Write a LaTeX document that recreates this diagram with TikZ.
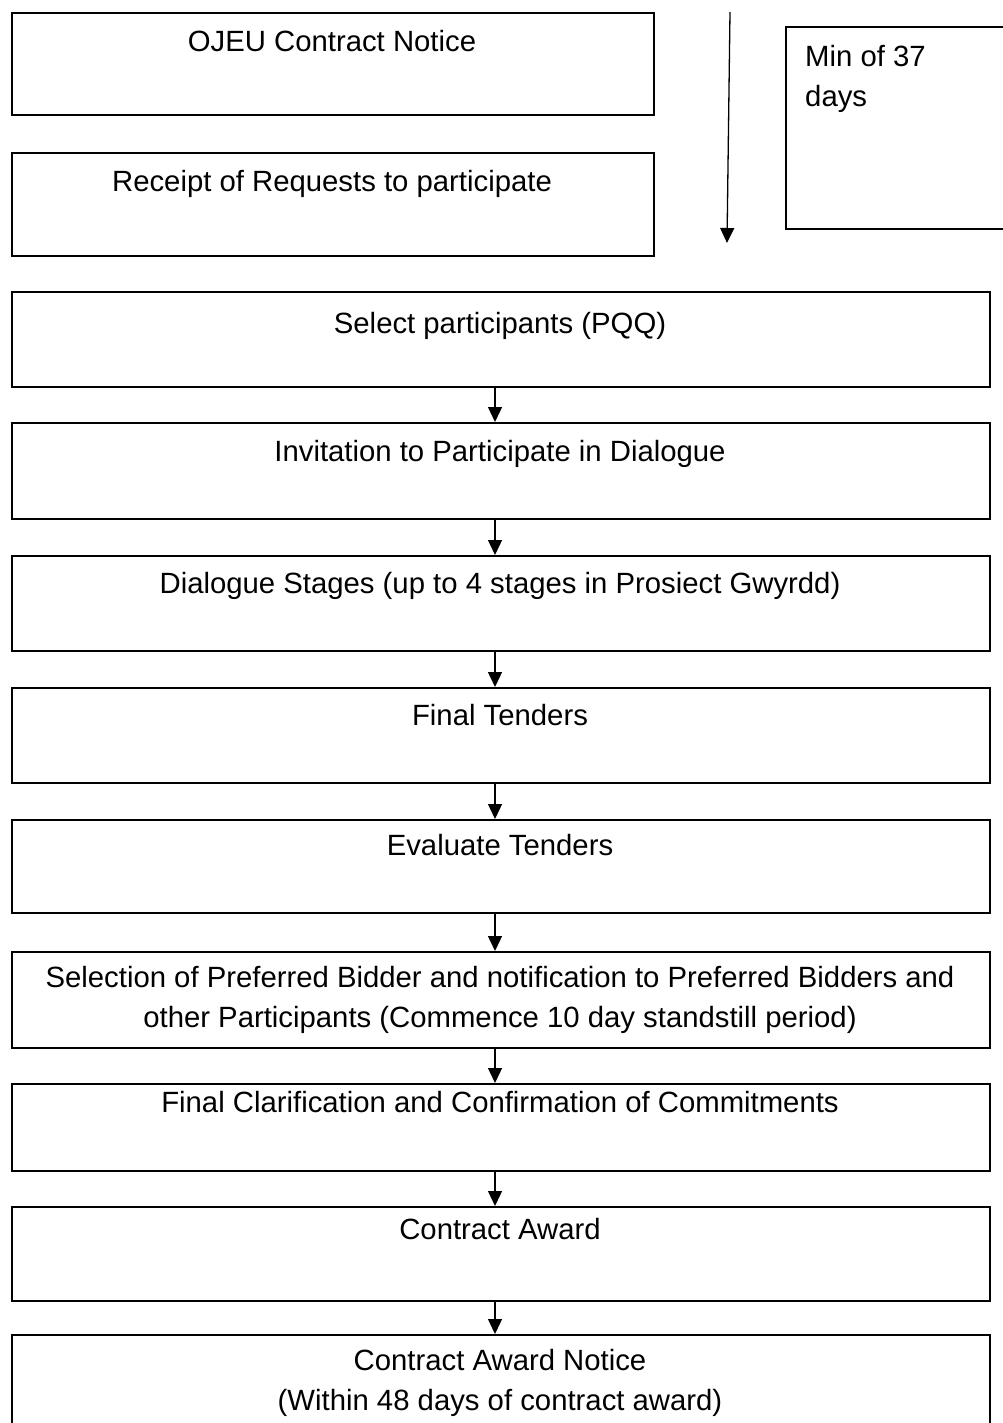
\documentclass[tikz,border=0pt]{standalone}
\usepackage{fontspec}
\setmainfont{Liberation Sans}
\usetikzlibrary{arrows.meta}
\tikzset{
  box/.style={draw=black, line width=2pt, rectangle, inner sep=0pt, anchor=north west},
  txt/.style={anchor=base, inner sep=0pt, align=center, font=\fontsize{29.3}{40}\selectfont},
  ltxt/.style={anchor=base west, inner sep=0pt, align=left, font=\fontsize{29.3}{40}\selectfont},
  arr/.style={line width=1.3pt, -{Triangle[length=15pt,width=14pt]}}
}
\begin{document}
\begin{tikzpicture}[x=1pt,y=-1pt]
\clip (0,0) rectangle (1003,1423);
\fill[white] (0,0) rectangle (1003,1423);
% top boxes
\node[box, minimum width=642pt, minimum height=102pt] (ojeu) at (11,12) {};
\node[txt] (ojeut) at (332,52) {OJEU Contract Notice};
\node[box, minimum width=642pt, minimum height=103pt] (rec) at (11,152) {};
\node[txt] (rect) at (332,192) {Receipt of Requests to participate};
\node[box, minimum width=240pt, minimum height=202pt] (min) at (785,26) {};
\node[ltxt] (mint) at (805,107) {Min of 37\\days};
\coordinate (ta) at (730,12);
\coordinate (tb) at (727,243);
\draw[arr] (ta) -- (tb);
% main column
\coordinate (ax) at (495,0);
\node[box, minimum width=978pt, minimum height=95pt] (sel) at (11,291) {};
\node[txt] (selt) at (500,333) {Select participants (PQQ)};
\node[box, minimum width=978pt, minimum height=96pt] (inv) at (11,422) {};
\node[txt] (invt) at (500,461) {Invitation to Participate in Dialogue};
\node[box, minimum width=978pt, minimum height=95pt] (dia) at (11,555) {};
\node[txt] (diat) at (500,593) {Dialogue Stages (up to 4 stages in Prosiect Gwyrdd)};
\node[box, minimum width=978pt, minimum height=95pt] (fin) at (11,687) {};
\node[txt] (fint) at (500,725) {Final Tenders};
\node[box, minimum width=978pt, minimum height=93pt] (eva) at (11,819) {};
\node[txt] (evat) at (500,855) {Evaluate Tenders};
\node[box, minimum width=978pt, minimum height=96pt] (pref) at (11,951) {};
\node[txt] (preft) at (500,1027) {Selection of Preferred Bidder and notification to Preferred Bidders and\\other Participants (Commence 10 day standstill period)};
\node[box, minimum width=978pt, minimum height=87pt] (cla) at (11,1083) {};
\node[txt] (clat) at (500,1112) {Final Clarification and Confirmation of Commitments};
\node[box, minimum width=978pt, minimum height=94pt] (aw) at (11,1206) {};
\node[txt] (awt) at (500,1239) {Contract Award};
\node[box, minimum width=978pt, minimum height=120pt] (not) at (11,1334) {};
\node[txt] (nott) at (500,1410) {Contract Award Notice\\(Within 48 days of contract award)};
% arrows
\draw[arr] (sel.south -| ax) -- (inv.north -| ax);
\draw[arr] (inv.south -| ax) -- (dia.north -| ax);
\draw[arr] (dia.south -| ax) -- (fin.north -| ax);
\draw[arr] (fin.south -| ax) -- (eva.north -| ax);
\draw[arr] (eva.south -| ax) -- (pref.north -| ax);
\draw[arr] (pref.south -| ax) -- (cla.north -| ax);
\draw[arr] (cla.south -| ax) -- (aw.north -| ax);
\draw[arr] (aw.south -| ax) -- (not.north -| ax);
\end{tikzpicture}
\end{document}
